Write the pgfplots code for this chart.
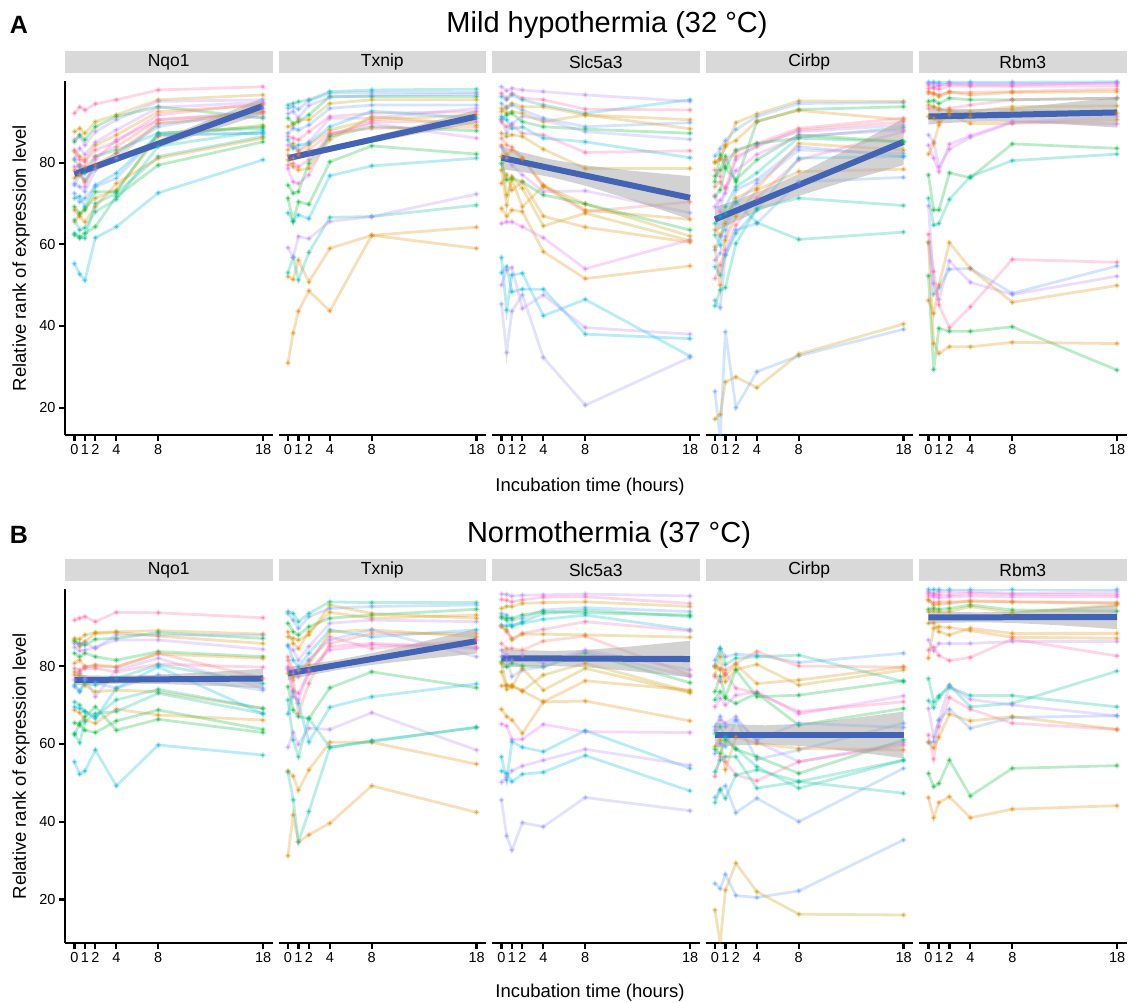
\documentclass[border=0pt]{standalone}
\usepackage{fontspec}
\setmainfont{Liberation Sans}
\usepackage{pgfplots}
\pgfplotsset{compat=1.18}

\definecolor{cR}{HTML}{F8766D}
\definecolor{cO}{HTML}{E58700}
\definecolor{cY}{HTML}{C99800}
\definecolor{cG}{HTML}{00BA38}
\definecolor{cT}{HTML}{00C19F}
\definecolor{cC}{HTML}{00B9E3}
\definecolor{cB}{HTML}{619CFF}
\definecolor{cP}{HTML}{B983FF}
\definecolor{cM}{HTML}{E76BF3}
\definecolor{cK}{HTML}{FF67A4}
\definecolor{cL}{HTML}{9590FF}
\definecolor{fitblue}{HTML}{4363B5}
\definecolor{strip}{HTML}{D9D9D9}

\pgfplotsset{
  cl/.style={line width=2.8pt, draw opacity=0.27, mark=*, mark size=1.25pt,
    mark options={draw=none, fill opacity=0.75}},
  pan/.style={width=207.5pt, height=354pt, scale only axis, anchor=north west,
    xmin=-0.9, xmax=18.9, xtick={0,1,2,4,8,18},
    axis x line*=bottom, axis line style={-, line width=2.8pt},
    tick style={black, line width=2.2pt}, major tick length=6pt, tick align=outside,
    tick label style={font=\fontsize{14.5}{15}\selectfont},
    /pgf/number format/assume math mode=true,
    title style={at={(0.5,1)}, anchor=south, yshift=1.5pt, fill=strip,
      minimum width=207.5pt, minimum height=22pt, inner sep=0pt,
      font=\fontsize{17.5}{18}\selectfont}},
  rowA/.style={ymin=13.3, ymax=100},
  rowB/.style={ymin=8.8, ymax=99.8},
  yl/.style={axis y line*=left, ytick={20,40,60,80}},
  yn/.style={hide y axis},
  bandf/.style={draw=none, fill=gray!70, fill opacity=0.5},
  fitl/.style={color=fitblue, line width=6pt},
}

% one cell line: colour, then ranks at 0, 0.5, 1, 2, 4, 8, 18 h
\newcommand\ser[8]{\addplot[cl, color=#1] coordinates {(0,#2)(0.5,#3)(1,#4)(2,#5)(4,#6)(8,#7)(18,#8)};}

\begin{document}
\begin{tikzpicture}
\path[use as bounding box] (0,0) rectangle (1129pt,-1003pt);

\node[font=\bfseries\fontsize{25}{25}\selectfont] at (19pt,-25pt) {A};
\node[font=\fontsize{29}{29}\selectfont] at (607pt,-25pt) {Mild hypothermia (32 °C)};
\node[font=\bfseries\fontsize{25}{25}\selectfont] at (19pt,-535pt) {B};
\node[font=\fontsize{29}{29}\selectfont] at (609pt,-535pt) {Normothermia (37 °C)};
\node[rotate=90, font=\fontsize{18.5}{19}\selectfont] at (21pt,-258pt) {Relative rank of expression level};
\node[rotate=90, font=\fontsize{18.5}{19}\selectfont] at (21pt,-766pt) {Relative rank of expression level};
\node[font=\fontsize{18.5}{19}\selectfont] at (590pt,-487pt) {Incubation time (hours)};
\node[font=\fontsize{18.5}{19}\selectfont] at (590pt,-993pt) {Incubation time (hours)};

% ---------------- A: 32 C ----------------
\begin{axis}[pan, rowA, yl, at={(65pt,-81pt)}, title={Nqo1}]
\ser{cK}{92.1}{93.6}{92.9}{94.4}{95.4}{97.8}{98.6}
\ser{cC}{55.3}{52.7}{51.2}{61.6}{64.3}{72.6}{80.7}
\ser{cY}{87.6}{88.4}{87.2}{90.0}{91.7}{95.4}{96.6}
\ser{cP}{85.6}{86.4}{84.3}{87.6}{90.5}{95.0}{95.4}
\ser{cG}{85.1}{86.8}{85.6}{88.8}{91.3}{93.7}{90.9}
\ser{cO}{83.1}{81.5}{80.7}{84.3}{86.8}{92.5}{94.1}
\ser{cT}{80.7}{79.0}{77.4}{81.5}{83.1}{87.2}{88.4}
\ser{cM}{79.0}{79.4}{74.1}{80.7}{85.6}{90.5}{92.5}
\ser{cB}{74.5}{77.0}{75.8}{78.6}{82.3}{88.8}{93.3}
\ser{cG}{62.3}{61.5}{62.7}{64.3}{71.7}{79.4}{85.1}
\ser{cT}{62.7}{61.9}{61.5}{70.0}{72.5}{81.5}{86.4}
\ser{cO}{68.4}{66.8}{65.5}{69.2}{74.9}{81.1}{86.0}
\ser{cY}{65.5}{67.2}{68.8}{71.3}{73.3}{86.4}{89.2}
\ser{cC}{71.3}{71.7}{69.2}{74.5}{77.4}{86.8}{87.2}
\ser{cK}{82.7}{80.7}{80.2}{83.1}{85.1}{91.7}{94.5}
\ser{cR}{78.2}{79.4}{79.0}{81.5}{83.9}{90.5}{92.1}
\ser{cL}{74.9}{74.1}{72.9}{78.2}{81.1}{89.6}{91.3}
\ser{cG}{69.2}{67.6}{68.4}{72.9}{72.9}{87.2}{88.8}
\ser{cB}{72.5}{70.4}{71.3}{74.1}{76.2}{86.8}{87.2}
\ser{cO}{76.2}{77.0}{75.3}{79.4}{82.3}{89.6}{92.5}
\ser{cT}{66.0}{63.5}{64.0}{68.0}{71.0}{84.0}{87.8}
\ser{cP}{81.0}{83.5}{82.0}{85.0}{88.0}{93.5}{94.8}
\addplot[bandf] coordinates {(0,78.26)(2,79.96)(4.8,82.47)(8,85.56)(12,89.64)(18,95.9)
  (18,91.9)(12,87.04)(8,83.68)(4.8,80.83)(2,78.16)(0,76.14)};
\addplot[fitl] coordinates {(0,77.2)(18,93.9)};
\end{axis}

\begin{axis}[pan, rowA, yn, at={(278.5pt,-81pt)}, title={Txnip}]
\ser{cO}{30.9}{38.3}{43.6}{48.6}{43.7}{62.2}{64.2}
\ser{cO}{52.1}{51.4}{56.1}{50.8}{59.0}{62.2}{59.0}
\ser{cT}{53.0}{56.8}{51.3}{58.0}{66.6}{66.8}{69.6}
\ser{cP}{59.2}{56.8}{61.9}{61.4}{65.6}{66.8}{72.3}
\ser{cC}{67.7}{65.7}{67.2}{66.3}{76.8}{79.2}{81.1}
\ser{cG}{71.3}{65.6}{70.4}{69.8}{80.2}{84.1}{82.1}
\ser{cT}{94.1}{94.5}{94.9}{95.4}{97.4}{97.8}{98.0}
\ser{cB}{93.3}{93.7}{93.1}{95.2}{97.0}{97.2}{97.2}
\ser{cG}{90.9}{89.6}{90.0}{91.7}{96.2}{96.2}{96.2}
\ser{cY}{88.8}{89.2}{90.5}{90.5}{94.5}{95.4}{95.4}
\ser{cB}{87.2}{88.4}{88.0}{89.2}{93.3}{94.1}{94.1}
\ser{cK}{86.4}{86.0}{85.6}{87.6}{91.3}{92.1}{92.5}
\ser{cP}{84.3}{83.9}{83.1}{85.1}{90.9}{90.9}{93.3}
\ser{cO}{83.1}{84.7}{82.7}{84.3}{88.0}{90.5}{91.7}
\ser{cK}{79.4}{79.8}{79.0}{80.7}{86.8}{90.0}{90.0}
\ser{cM}{78.6}{75.3}{74.9}{77.0}{86.8}{89.6}{86.0}
\ser{cG}{74.5}{72.5}{72.9}{79.8}{86.4}{88.8}{87.8}
\ser{cC}{85.6}{83.5}{84.3}{84.7}{88.8}{92.6}{90.9}
\ser{cR}{81.9}{81.1}{81.9}{83.1}{87.2}{88.4}{88.7}
\ser{cY}{80.7}{79.0}{78.2}{78.6}{85.6}{91.3}{89.2}
\ser{cL}{92.0}{92.5}{91.0}{94.0}{96.0}{96.5}{96.8}
\addplot[bandf] coordinates {(0,81.95)(2,82.95)(4.8,84.48)(8,86.39)(12,88.94)(18,92.9)
  (18,89.7)(12,86.86)(8,84.89)(4.8,83.16)(2,81.51)(0,80.25)};
\addplot[fitl] coordinates {(0,81.1)(18,91.3)};
\end{axis}

\begin{axis}[pan, rowA, yn, at={(492pt,-81pt)}, title={Slc5a3}]
\ser{cP}{98.6}{97.6}{98.2}{97.8}{97.4}{96.6}{95.0}
\ser{cC}{96.2}{95.4}{96.6}{95.4}{94.1}{92.1}{95.4}
\ser{cK}{97.0}{95.8}{97.0}{95.8}{95.4}{93.1}{92.9}
\ser{cO}{92.5}{93.7}{94.5}{93.7}{93.7}{91.7}{90.5}
\ser{cB}{94.5}{93.3}{94.1}{92.9}{90.9}{88.8}{89.8}
\ser{cY}{93.3}{92.1}{92.5}{92.1}{90.0}{91.7}{88.3}
\ser{cG}{90.6}{91.7}{92.1}{90.0}{88.8}{88.2}{87.2}
\ser{cL}{90.5}{87.2}{89.6}{91.3}{90.5}{87.6}{85.7}
\ser{cK}{90.0}{88.8}{89.2}{87.2}{86.8}{82.5}{82.9}
\ser{cC}{91.3}{90.5}{88.4}{88.7}{86.0}{85.1}{81.2}
\ser{cY}{87.2}{86.4}{86.8}{86.4}{83.3}{78.6}{78.6}
\ser{cR}{86.0}{84.3}{83.8}{81.1}{74.1}{68.0}{70.4}
\ser{cO}{84.3}{81.9}{83.1}{81.1}{74.5}{68.4}{66.1}
\ser{cP}{83.9}{81.1}{79.4}{77.0}{72.9}{73.1}{67.7}
\ser{cY}{81.5}{72.1}{75.8}{69.2}{74.3}{69.9}{62.0}
\ser{cG}{79.8}{75.8}{76.2}{75.3}{72.1}{69.9}{63.5}
\ser{cO}{74.9}{77.0}{73.3}{75.3}{66.9}{64.2}{60.5}
\ser{cY}{78.2}{69.6}{76.6}{73.7}{64.5}{67.6}{60.9}
\ser{cO}{68.8}{66.9}{68.4}{68.0}{58.2}{51.6}{54.7}
\ser{cM}{65.1}{65.5}{65.5}{64.3}{61.6}{54.0}{61.1}
\ser{cC}{56.8}{43.9}{52.5}{52.9}{42.5}{46.5}{32.6}
\ser{cC}{53.0}{54.5}{48.4}{49.0}{49.0}{38.0}{36.9}
\ser{cP}{50.0}{53.7}{54.3}{44.3}{47.6}{39.6}{38.0}
\ser{cL}{45.4}{33.5}{43.6}{47.6}{32.3}{20.6}{32.3}
\addplot[bandf] coordinates {(0,84.01)(2,82.5)(4.8,80.76)(8,79.34)(12,78.12)(18,76.7)
  (18,66.1)(12,71.22)(8,74.36)(4.8,76.42)(2,77.72)(0,78.39)};
\addplot[fitl] coordinates {(0,81.2)(18,71.4)};
\end{axis}

\begin{axis}[pan, rowA, yn, at={(705.5pt,-81pt)}, title={Cirbp}]
\ser{cY}{80.2}{81.1}{83.9}{89.8}{91.9}{95.1}{95.0}
\ser{cB}{81.6}{83.4}{85.4}{88.1}{91.3}{94.5}{94.7}
\ser{cG}{76.7}{78.2}{81.5}{75.3}{90.0}{93.0}{93.7}
\ser{cO}{80.0}{80.8}{84.3}{85.4}{90.2}{92.8}{90.5}
\ser{cK}{78.2}{76.6}{80.7}{82.7}{84.7}{88.4}{90.9}
\ser{cR}{74.1}{75.3}{73.7}{81.5}{83.9}{88.0}{90.0}
\ser{cP}{69.2}{70.8}{72.5}{80.7}{84.3}{87.6}{89.2}
\ser{cG}{71.7}{73.3}{78.6}{75.8}{80.7}{86.8}{85.1}
\ser{cT}{65.1}{66.8}{69.2}{74.1}{77.5}{86.2}{88.6}
\ser{cO}{63.5}{62.3}{65.1}{71.3}{73.7}{84.7}{83.1}
\ser{cB}{58.6}{61.9}{63.5}{73.3}{75.8}{83.9}{81.5}
\ser{cL}{56.1}{57.8}{61.9}{70.0}{74.9}{83.1}{82.3}
\ser{cK}{51.6}{54.9}{58.6}{64.7}{71.3}{80.7}{87.6}
\ser{cC}{54.5}{52.5}{57.4}{62.7}{68.4}{81.1}{81.5}
\ser{cO}{59.4}{50.0}{61.0}{66.8}{73.3}{77.8}{78.4}
\ser{cB}{46.3}{44.5}{57.4}{63.5}{65.1}{75.3}{76.4}
\ser{cT}{44.9}{48.8}{49.4}{60.2}{68.8}{71.3}{69.5}
\ser{cT}{62.3}{59.8}{67.6}{70.4}{65.3}{61.2}{63.0}
\ser{cB}{24.0}{12.5}{38.6}{20.0}{28.8}{32.7}{39.2}
\ser{cY}{17.2}{18.3}{26.3}{27.5}{24.9}{33.1}{40.5}
\ser{cG}{75.3}{81.9}{79.0}{83.1}{84.7}{86.0}{85.1}
\ser{cM}{72.0}{68.0}{74.0}{78.0}{82.0}{86.5}{88.0}
\addplot[bandf] coordinates {(0,69.12)(2,70.78)(4.8,73.51)(8,77.23)(12,82.48)(18,90.8)
  (18,79.4)(12,75.06)(8,71.87)(4.8,68.83)(2,65.64)(0,63.08)};
\addplot[fitl] coordinates {(0,66.1)(18,85.1)};
\end{axis}

\begin{axis}[pan, rowA, yn, at={(919pt,-81pt)}, title={Rbm3}]
\ser{cC}{99.7}{99.7}{99.6}{99.7}{99.7}{99.7}{99.8}
\ser{cP}{99.4}{99.4}{99.0}{99.4}{99.4}{99.4}{99.4}
\ser{cM}{99.0}{98.6}{98.8}{99.3}{99.0}{99.0}{99.6}
\ser{cK}{98.2}{98.2}{98.0}{98.8}{98.7}{98.7}{98.8}
\ser{cR}{97.0}{96.8}{96.6}{97.2}{97.2}{97.4}{98.0}
\ser{cO}{97.4}{97.0}{96.2}{97.4}{96.6}{97.2}{97.4}
\ser{cG}{95.0}{95.2}{94.5}{95.8}{95.4}{95.4}{95.8}
\ser{cK}{93.3}{93.6}{92.9}{93.3}{94.1}{95.4}{95.8}
\ser{cY}{94.1}{93.7}{93.3}{92.5}{92.5}{93.7}{93.9}
\ser{cO}{91.3}{90.9}{90.0}{91.7}{89.6}{89.6}{90.5}
\ser{cP}{86.8}{85.1}{79.0}{83.3}{86.2}{89.8}{91.3}
\ser{cM}{84.3}{81.1}{77.8}{84.5}{86.6}{90.0}{89.5}
\ser{cO}{82.1}{84.7}{89.2}{92.9}{91.3}{93.0}{92.1}
\ser{cG}{77.0}{68.4}{68.4}{77.5}{76.3}{84.6}{83.5}
\ser{cT}{71.3}{64.7}{65.1}{71.0}{76.6}{80.5}{82.1}
\ser{cP}{69.4}{50.4}{46.5}{55.9}{50.7}{47.7}{52.2}
\ser{cK}{62.5}{53.3}{45.2}{39.6}{44.7}{56.3}{55.6}
\ser{cB}{60.4}{47.8}{49.4}{53.9}{54.1}{48.0}{54.7}
\ser{cO}{46.3}{43.1}{50.0}{60.4}{54.1}{45.8}{49.9}
\ser{cG}{52.3}{29.3}{39.4}{38.7}{38.7}{39.8}{29.2}
\ser{cO}{60.6}{35.7}{33.3}{34.9}{34.9}{36.0}{35.7}
\addplot[bandf] coordinates {(0,93.26)(2,93.08)(4.8,93.09)(8,93.49)(12,94.38)(18,96.0)
  (18,88.6)(12,89.56)(8,90.01)(4.8,90.05)(2,89.74)(0,89.34)};
\addplot[fitl] coordinates {(0,91.3)(18,92.3)};
\end{axis}

% ---------------- B: 37 C ----------------
\begin{axis}[pan, rowB, yl, at={(65pt,-589pt)}, title={Nqo1}]
\ser{cK}{91.8}{92.3}{92.7}{91.4}{93.8}{93.7}{92.4}
\ser{cC}{55.4}{52.2}{53.0}{58.4}{49.2}{59.7}{57.1}
\ser{cY}{87.1}{86.9}{88.0}{88.6}{88.8}{89.1}{88.2}
\ser{cO}{86.7}{85.0}{86.3}{88.4}{88.6}{87.7}{85.8}
\ser{cG}{86.3}{85.8}{85.4}{86.9}{87.1}{88.6}{87.1}
\ser{cP}{84.8}{83.9}{84.1}{84.8}{86.7}{86.7}{84.3}
\ser{cL}{85.8}{85.4}{86.0}{84.5}{88.0}{88.0}{88.0}
\ser{cG}{83.3}{82.4}{83.3}{82.4}{81.5}{83.7}{82.4}
\ser{cO}{80.7}{81.5}{79.8}{80.0}{79.7}{83.1}{82.0}
\ser{cK}{79.4}{79.0}{79.4}{79.4}{78.5}{80.5}{79.7}
\ser{cR}{77.7}{78.5}{79.8}{80.3}{79.8}{83.3}{76.8}
\ser{cP}{76.4}{78.1}{76.8}{72.1}{79.0}{82.0}{74.3}
\ser{cT}{75.1}{73.4}{75.5}{75.1}{76.8}{80.3}{75.5}
\ser{cB}{74.7}{73.6}{76.4}{75.7}{74.3}{77.7}{73.8}
\ser{cY}{78.5}{77.6}{75.0}{73.4}{73.8}{73.4}{69.1}
\ser{cT}{70.8}{70.0}{68.3}{67.0}{71.3}{74.0}{69.1}
\ser{cO}{68.7}{68.0}{66.1}{65.3}{68.9}{67.4}{66.1}
\ser{cG}{65.4}{64.8}{63.5}{62.9}{65.9}{68.7}{63.7}
\ser{cT}{62.7}{60.3}{65.7}{67.8}{68.3}{73.0}{67.8}
\ser{cC}{69.5}{69.1}{68.3}{66.5}{74.3}{79.8}{67.7}
\ser{cG}{62.3}{65.3}{67.0}{69.5}{63.5}{66.3}{62.9}
\addplot[bandf] coordinates {(0,77.73)(2,77.57)(4.8,77.54)(8,77.76)(12,78.3)(18,79.3)
  (18,74.3)(12,75.04)(8,75.4)(4.8,75.48)(2,75.31)(0,75.07)};
\addplot[fitl] coordinates {(0,76.4)(18,76.8)};
\end{axis}

\begin{axis}[pan, rowB, yn, at={(278.5pt,-589pt)}, title={Txnip}]
\ser{cT}{94.0}{93.5}{91.4}{93.5}{96.5}{96.3}{96.3}
\ser{cB}{93.5}{91.8}{89.7}{92.7}{94.8}{95.3}{95.7}
\ser{cG}{91.0}{88.8}{88.0}{90.1}{92.3}{93.1}{94.6}
\ser{cO}{88.8}{85.8}{84.5}{88.8}{93.8}{92.3}{93.1}
\ser{cY}{87.5}{87.1}{86.7}{88.0}{95.7}{93.5}{92.3}
\ser{cP}{85.0}{84.1}{81.5}{85.0}{91.0}{91.8}{91.4}
\ser{cC}{85.4}{81.5}{79.8}{83.3}{89.3}{87.5}{89.3}
\ser{cK}{82.4}{79.0}{77.3}{81.5}{87.5}{84.5}{86.7}
\ser{cM}{79.4}{72.1}{71.3}{79.0}{84.1}{85.4}{84.5}
\ser{cR}{81.5}{76.4}{67.8}{75.5}{85.8}{88.4}{88.4}
\ser{cG}{74.7}{68.7}{67.0}{66.5}{74.4}{78.5}{74.4}
\ser{cC}{67.7}{73.4}{70.4}{60.5}{69.4}{72.1}{75.4}
\ser{cP}{59.1}{62.9}{59.9}{64.0}{63.7}{68.0}{58.4}
\ser{cT}{71.3}{61.0}{56.7}{66.5}{59.1}{60.8}{64.2}
\ser{cO}{53.0}{51.7}{48.1}{53.3}{60.4}{60.4}{54.8}
\ser{cO}{31.2}{41.7}{34.8}{36.6}{39.6}{49.2}{42.4}
\ser{cT}{52.8}{45.6}{34.8}{42.6}{59.1}{60.6}{64.3}
\ser{cY}{78.1}{77.3}{79.0}{80.3}{88.8}{89.3}{87.5}
\ser{cK}{79.8}{73.8}{73.0}{78.1}{85.0}{85.8}{84.8}
\ser{cL}{79.0}{78.1}{79.0}{81.5}{86.7}{89.3}{82.4}
\addplot[bandf] coordinates {(0,79.8)(2,80.46)(4.8,81.62)(8,83.29)(12,85.71)(18,89.6)
  (18,83.2)(12,81.55)(8,80.29)(4.8,79.0)(2,77.58)(0,76.4)};
\addplot[fitl] coordinates {(0,78.1)(18,86.4)};
\end{axis}

\begin{axis}[pan, rowB, yn, at={(492pt,-589pt)}, title={Slc5a3}]
\ser{cP}{98.5}{98.4}{98.0}{98.2}{98.3}{98.5}{98.0}
\ser{cK}{97.1}{96.9}{96.5}{97.0}{97.7}{97.8}{96.1}
\ser{cY}{94.8}{95.3}{95.3}{96.1}{96.3}{96.5}{95.3}
\ser{cB}{93.5}{93.1}{91.8}{92.3}{94.4}{95.0}{94.0}
\ser{cT}{92.3}{91.8}{90.1}{91.4}{93.5}{94.4}{92.7}
\ser{cG}{92.7}{92.3}{92.3}{93.1}{94.0}{93.7}{93.1}
\ser{cC}{90.5}{90.3}{90.5}{91.0}{92.0}{93.1}{89.3}
\ser{cK}{90.3}{88.8}{87.1}{88.4}{89.4}{91.4}{89.0}
\ser{cY}{90.1}{89.3}{86.7}{88.2}{88.2}{88.0}{87.4}
\ser{cR}{85.8}{84.5}{84.5}{84.1}{86.4}{87.7}{77.7}
\ser{cP}{84.1}{82.8}{81.5}{82.8}{80.7}{84.1}{79.0}
\ser{cG}{81.1}{79.8}{80.7}{80.0}{79.8}{83.3}{75.7}
\ser{cL}{82.4}{81.5}{77.3}{79.0}{79.8}{83.7}{77.3}
\ser{cY}{78.5}{74.0}{74.7}{79.4}{73.8}{79.4}{73.1}
\ser{cY}{80.7}{75.1}{75.1}{73.6}{77.7}{80.7}{73.4}
\ser{cO}{74.9}{74.9}{74.7}{73.6}{70.8}{76.2}{73.8}
\ser{cO}{68.9}{67.0}{66.1}{62.7}{70.8}{71.0}{65.9}
\ser{cM}{65.1}{64.6}{61.1}{61.2}{65.0}{63.1}{62.9}
\ser{cC}{56.7}{50.7}{60.5}{59.1}{58.0}{63.4}{53.7}
\ser{cP}{50.1}{51.4}{53.1}{54.3}{55.8}{58.6}{54.5}
\ser{cC}{53.0}{52.4}{50.3}{52.2}{52.7}{57.0}{47.9}
\ser{cL}{45.6}{36.3}{32.7}{39.7}{38.7}{46.2}{42.8}
\addplot[bandf] coordinates {(0,84.49)(2,84.1)(4.8,83.88)(8,84.12)(12,84.93)(18,86.5)
  (18,77.1)(12,78.81)(8,79.7)(4.8,80.02)(2,79.86)(0,79.51)};
\addplot[fitl] coordinates {(0,82.0)(18,81.8)};
\end{axis}

\begin{axis}[pan, rowB, yn, at={(705.5pt,-589pt)}, title={Cirbp}]
\ser{cB}{81.5}{84.5}{82.4}{83.0}{82.8}{80.9}{83.3}
\ser{cT}{80.0}{84.5}{80.4}{82.0}{82.4}{82.8}{76.0}
\ser{cR}{79.8}{79.4}{79.0}{80.7}{83.7}{80.0}{79.7}
\ser{cO}{80.0}{79.0}{77.7}{80.4}{75.5}{76.4}{79.8}
\ser{cY}{77.7}{82.4}{76.0}{79.1}{80.4}{75.1}{79.0}
\ser{cK}{77.3}{76.0}{78.1}{74.3}{73.0}{68.3}{70.8}
\ser{cG}{73.4}{77.3}{72.1}{79.0}{72.1}{72.5}{76.2}
\ser{cM}{69.5}{71.7}{70.0}{72.5}{73.4}{67.7}{72.3}
\ser{cG}{71.3}{73.4}{71.7}{70.4}{73.0}{64.8}{69.1}
\ser{cB}{64.4}{67.0}{64.4}{66.1}{61.0}{65.3}{64.2}
\ser{cP}{63.5}{66.1}{65.3}{67.0}{60.5}{55.4}{60.3}
\ser{cT}{62.7}{64.4}{61.8}{58.8}{54.1}{48.6}{55.8}
\ser{cB}{57.5}{60.1}{59.3}{66.1}{56.0}{58.4}{65.3}
\ser{cO}{59.3}{61.0}{53.4}{61.8}{60.1}{58.8}{58.4}
\ser{cG}{58.6}{57.5}{61.0}{58.6}{56.7}{52.4}{61.0}
\ser{cK}{51.6}{56.7}{55.4}{52.0}{50.5}{55.4}{59.7}
\ser{cT}{52.8}{55.8}{56.7}{56.7}{48.6}{50.3}{47.3}
\ser{cB}{46.2}{48.3}{49.2}{42.3}{46.0}{40.0}{53.7}
\ser{cT}{44.9}{48.1}{46.0}{52.0}{53.3}{50.3}{55.8}
\ser{cB}{24.1}{22.8}{26.4}{21.0}{20.5}{22.2}{35.3}
\ser{cY}{17.3}{8.7}{22.4}{29.3}{22.0}{16.2}{16.0}
\addplot[bandf] coordinates {(0,65.48)(2,65.0)(4.8,64.76)(8,65.12)(12,66.2)(18,68.3)
  (18,56.3)(12,58.4)(8,59.48)(4.8,59.84)(2,59.6)(0,59.12)};
\addplot[fitl] coordinates {(0,62.3)(18,62.3)};
\end{axis}

\begin{axis}[pan, rowB, yn, at={(919pt,-589pt)}, title={Rbm3}]
\ser{cC}{99.7}{99.7}{99.7}{99.7}{99.7}{99.7}{99.7}
\ser{cP}{99.1}{98.7}{99.1}{99.1}{99.1}{98.7}{99.1}
\ser{cK}{98.7}{98.3}{98.3}{98.3}{98.7}{98.4}{98.4}
\ser{cM}{98.0}{97.8}{97.6}{97.8}{98.0}{97.8}{97.8}
\ser{cR}{96.8}{96.3}{96.5}{96.5}{96.5}{96.5}{96.3}
\ser{cO}{97.1}{95.7}{95.9}{96.1}{96.8}{96.5}{96.1}
\ser{cG}{94.6}{94.8}{94.6}{94.8}{95.7}{94.4}{94.1}
\ser{cY}{94.0}{94.2}{94.0}{94.0}{95.3}{93.7}{95.7}
\ser{cO}{91.0}{91.1}{88.8}{88.0}{89.7}{88.4}{88.4}
\ser{cO}{82.0}{89.7}{90.1}{89.9}{89.1}{87.4}{87.1}
\ser{cP}{86.7}{83.9}{85.8}{85.8}{85.8}{86.3}{86.3}
\ser{cK}{84.1}{84.8}{82.7}{81.4}{82.2}{86.9}{82.6}
\ser{cT}{76.8}{70.8}{72.4}{74.5}{72.4}{72.4}{69.5}
\ser{cT}{71.1}{69.3}{71.9}{75.1}{69.5}{70.4}{78.7}
\ser{cP}{69.1}{61.8}{66.1}{74.9}{71.4}{70.0}{67.2}
\ser{cK}{62.3}{56.1}{64.4}{71.9}{68.9}{65.3}{63.7}
\ser{cB}{60.3}{60.5}{66.1}{68.9}{64.0}{66.8}{67.2}
\ser{cO}{60.5}{59.0}{61.7}{67.6}{65.9}{67.0}{63.7}
\ser{cG}{52.4}{49.0}{49.8}{55.8}{46.6}{53.7}{54.4}
\ser{cO}{46.2}{41.0}{44.9}{46.4}{41.0}{43.2}{44.1}
\addplot[bandf] coordinates {(0,94.14)(2,93.91)(4.8,93.8)(8,94.0)(12,94.59)(18,95.7)
  (18,89.5)(12,90.55)(8,91.08)(4.8,91.26)(2,91.11)(0,90.86)};
\addplot[fitl] coordinates {(0,92.5)(18,92.6)};
\end{axis}
\end{tikzpicture}
\end{document}
